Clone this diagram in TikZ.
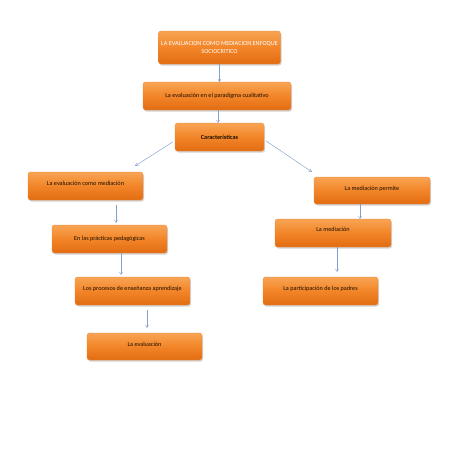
\documentclass[tikz,border=0pt]{standalone}
\usepackage{fontspec}
\setmainfont{Carlito}
\usepackage{xcolor}
\usepackage{tikz}
\usetikzlibrary{arrows.meta, positioning, shadows}

\definecolor{naranjaclaro}{RGB}{248,164,84}
\definecolor{naranjamedio}{RGB}{242,133,40}
\definecolor{naranjaoscuro}{RGB}{226,108,18}
\definecolor{textocaja}{RGB}{30,15,0}
\definecolor{flechaazul}{RGB}{130,160,205}

\begin{document}
\begin{tikzpicture}[x=1pt, y=-1pt,
    caja/.style={rounded corners=2.5pt, top color=naranjaclaro, bottom color=naranjaoscuro,
                 middle color=naranjamedio, draw=naranjaoscuro!80, line width=0.3pt,
                 drop shadow={opacity=0.35, shadow xshift=1pt, shadow yshift=-1.5pt},
                 minimum width=115pt, minimum height=28pt, align=center, text=textocaja,
                 font=\fontsize{6.2}{7.5}\selectfont, inner sep=1pt},
    subido/.style={text depth=5pt},
    flecha/.style={draw=flechaazul, line width=0.45pt, -{To[length=3pt, width=3.5pt]}}]
  \useasboundingbox (0,0) rectangle (453,453);

  \node[caja, minimum width=122pt, minimum height=33pt, text=white] (titulo) at (219.5,47.5)
    {LA EVALUACION COMO MEDIACION ENFOQUE\\SOCIOCRITICO};
  \node[caja, minimum width=148pt] (paradigma) at (217,96)
    {La evaluación en el paradigma cualitativo};
  \node[caja, minimum width=89pt, font=\fontsize{6.2}{7.5}\selectfont\bfseries] (caract) at (219.5,137)
    {Características};

  \node[caja, subido] (evmed) at (85.5,186) {La evaluación como mediación};
  \node[caja] (practicas) at (109.5,239) {En las prácticas pedagógicas};
  \node[caja, subido] (procesos) at (132.5,291) {Los procesos de enseñanza aprendizaje};
  \node[caja, minimum height=27pt, subido] (evaluacion) at (144.5,346.5) {La evaluación};

  \node[caja, minimum width=116pt, minimum height=27pt, subido] (permite) at (372,190.5) {La mediación permite};
  \node[caja, minimum width=116pt, text depth=8pt] (mediacion) at (333,233) {La mediación};
  \node[caja, subido] (padres) at (320.5,291) {La participación de los padres};

  \draw[flecha] (titulo.south) -- (paradigma.north -| titulo.south);
  \draw[flecha] ([xshift=1pt]paradigma.south) -- ([xshift=-1.5pt]caract.north);
  \draw[flecha] ([xshift=-2pt,yshift=-5pt]caract.west) -- ([xshift=-8pt,yshift=6pt]evmed.north east);
  \draw[flecha] ([xshift=2pt,yshift=-4pt]caract.east) -- ([xshift=-2pt,yshift=5pt]permite.north west);
  \draw[flecha] ([xshift=30.5pt,yshift=-5pt]evmed.south) -- ([xshift=6.5pt,yshift=2pt]practicas.north);
  \draw[flecha] ([xshift=11.5pt]practicas.south) -- ([xshift=-11.5pt,yshift=2pt]procesos.north);
  \draw[flecha] ([xshift=14.5pt,yshift=-5pt]procesos.south) -- ([xshift=2.5pt,yshift=5pt]evaluacion.north);
  \draw[flecha] ([xshift=-12pt]permite.south) -- ([xshift=27pt]mediacion.north);
  \draw[flecha] ([xshift=4pt]mediacion.south) -- ([xshift=16.5pt,yshift=5pt]padres.north);
\end{tikzpicture}
\end{document}
